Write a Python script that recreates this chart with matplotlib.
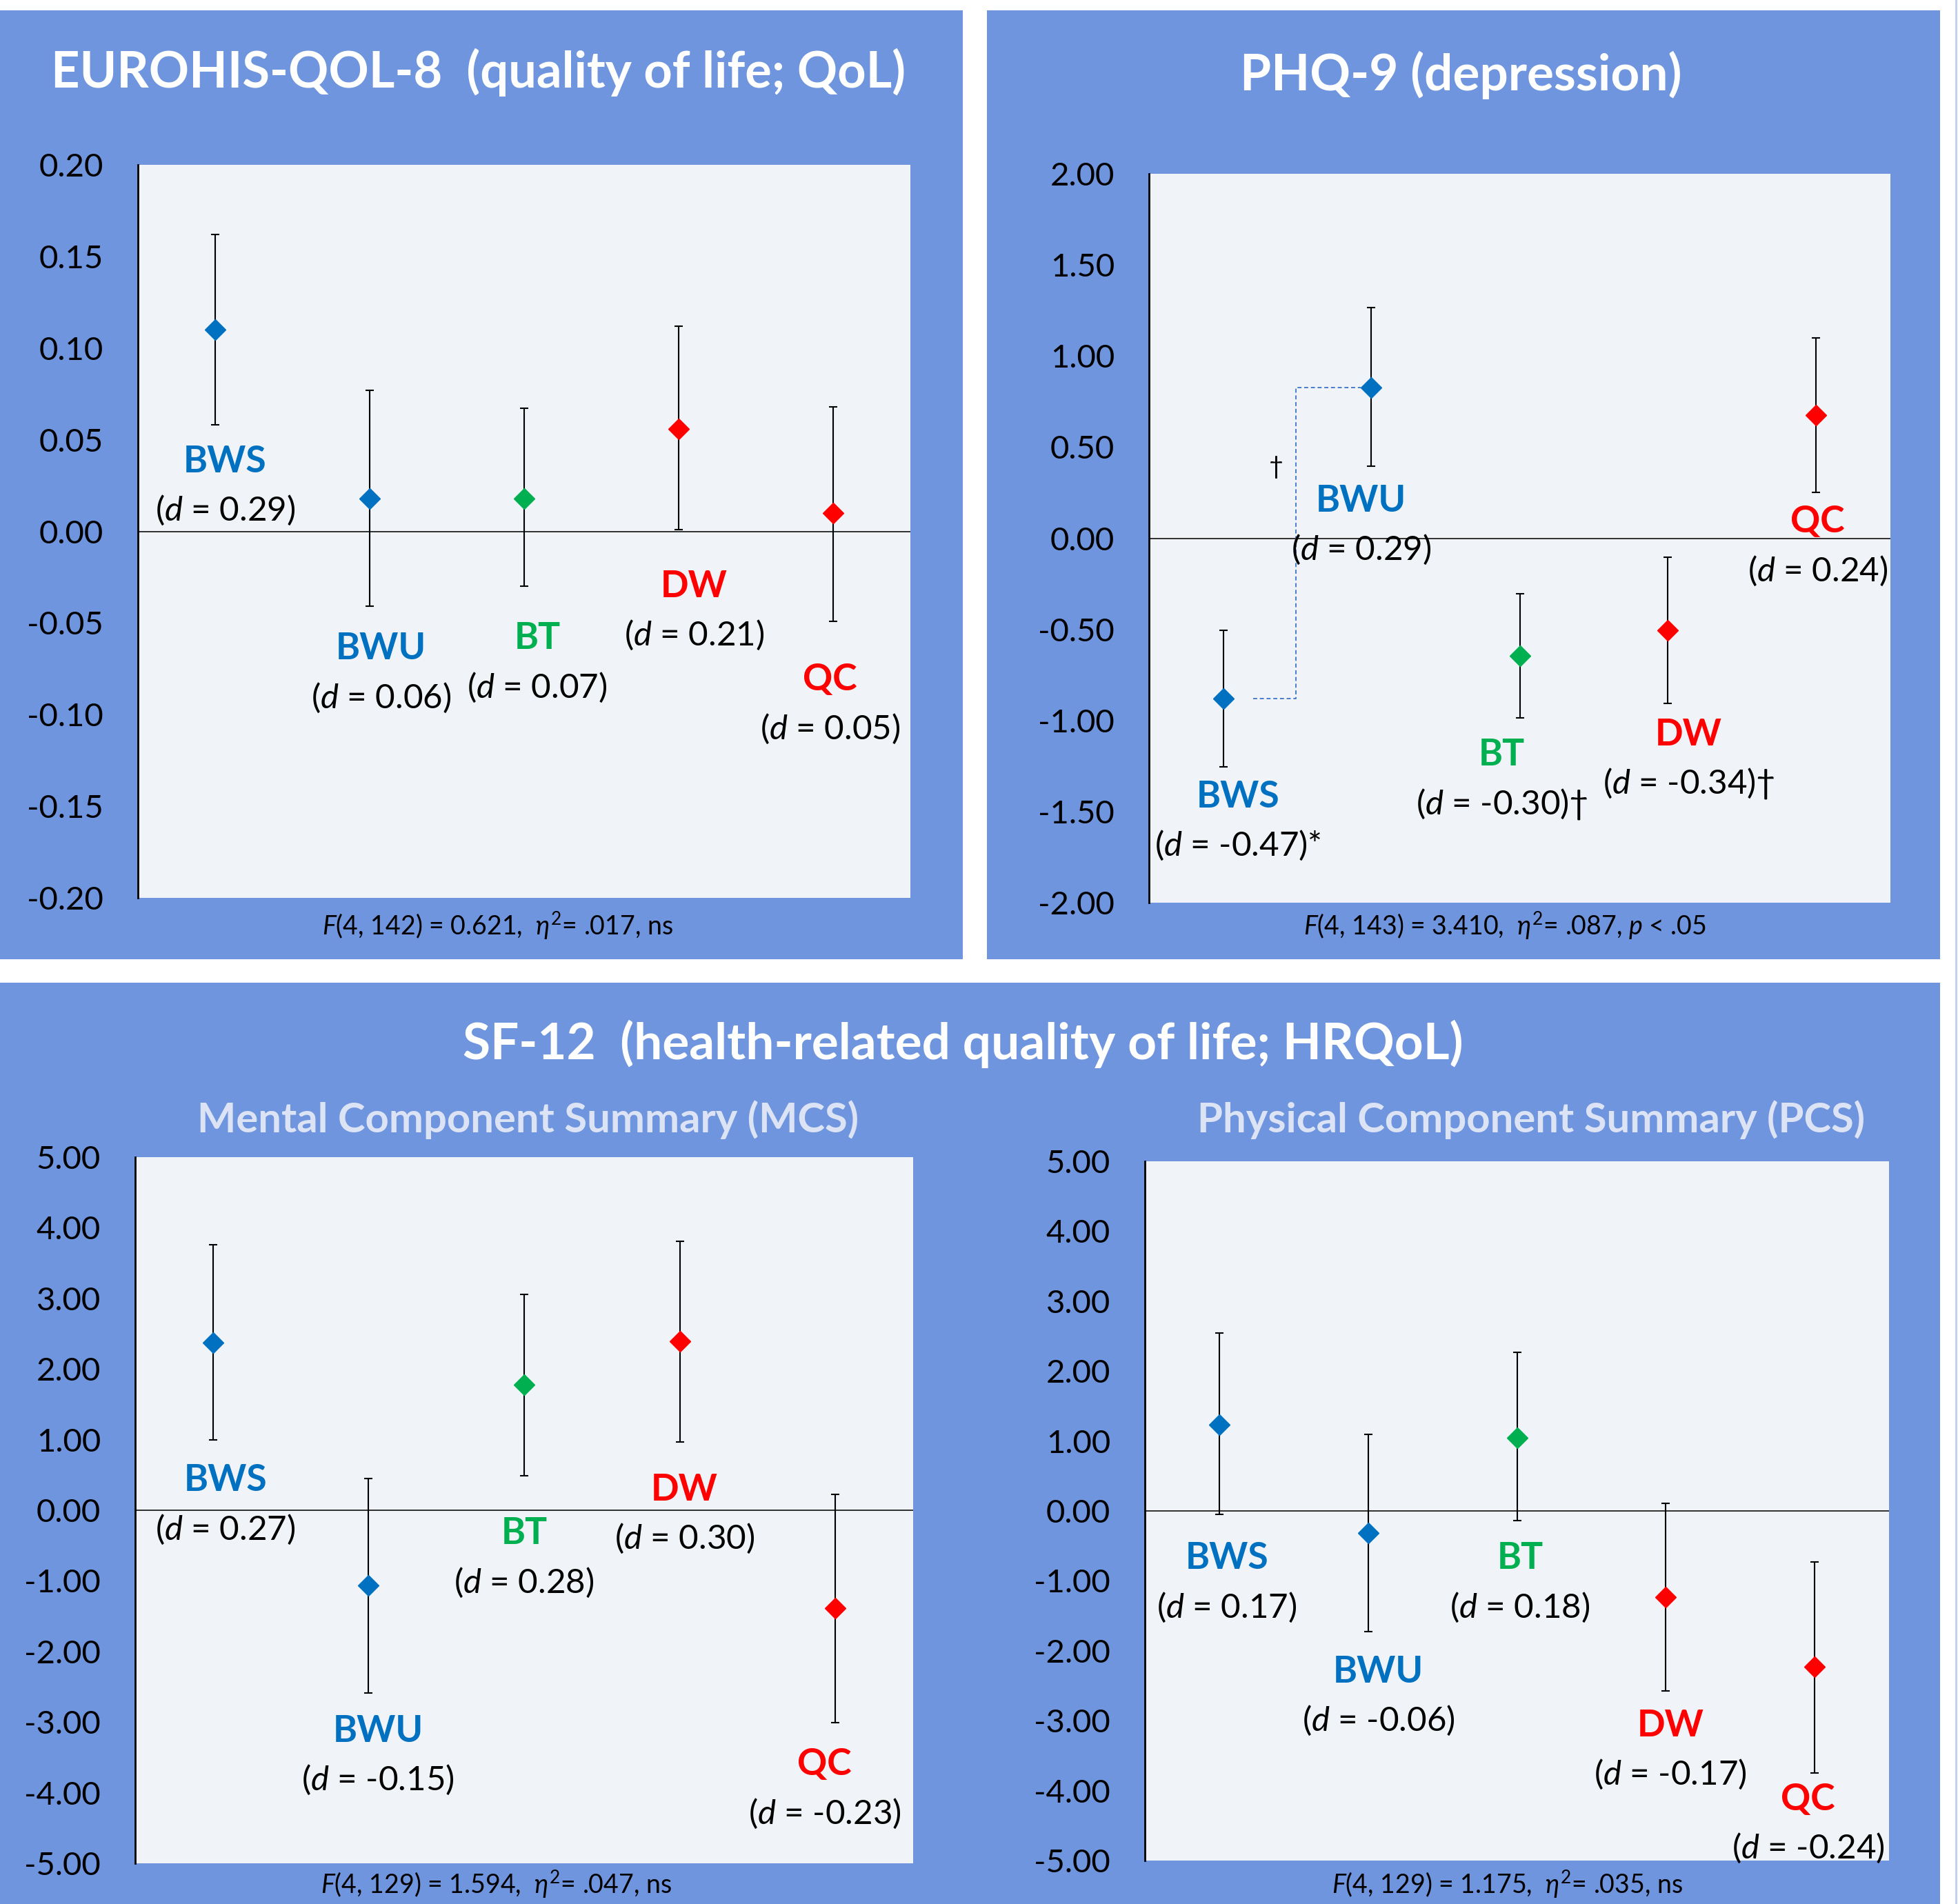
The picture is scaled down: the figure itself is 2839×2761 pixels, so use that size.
import numpy as np
import matplotlib
matplotlib.use('Agg')
import matplotlib.pyplot as plt
from matplotlib.patches import Rectangle
from matplotlib.ticker import FormatStrFormatter

plt.rcParams['font.family'] = ['Lato', 'DejaVu Sans']
plt.rcParams['mathtext.fontset'] = 'custom'
plt.rcParams['mathtext.rm'] = 'Lato'
plt.rcParams['mathtext.it'] = 'Lato:italic'
plt.rcParams['mathtext.bf'] = 'Lato:bold'
plt.rcParams['axes.unicode_minus'] = False

# Gruppen und Farben
groups = ['BWS', 'BWU', 'BT', 'DW', 'QC']
group_colors = ['#0070C0', '#0070C0', '#00B050', '#FF0000', '#FF0000']

# EUROHIS-QOL-8
qol_mean = [0.110, 0.018, 0.018, 0.056, 0.010]
qol_low = [0.058, -0.041, -0.030, 0.001, -0.049]
qol_high = [0.162, 0.077, 0.067, 0.112, 0.068]
qol_d = ['0.29', '0.06', '0.07', '0.21', '0.05']
qol_mark = ['', '', '', '', '']

# PHQ-9
phq_mean = [-0.880, 0.828, -0.647, -0.505, 0.676]
phq_low = [-1.255, 0.396, -0.985, -0.907, 0.250]
phq_high = [-0.506, 1.266, -0.305, -0.105, 1.100]
phq_d = ['-0.47', '0.29', '-0.30', '-0.34', '0.24']
phq_mark = ['*', '', '\u2020', '\u2020', '']

# SF-12 MCS
mcs_mean = [2.37, -1.06, 1.78, 2.39, -1.39]
mcs_low = [1.00, -2.59, 0.49, 0.97, -3.01]
mcs_high = [3.76, 0.45, 3.06, 3.81, 0.22]
mcs_d = ['0.27', '-0.15', '0.28', '0.30', '-0.23']

# SF-12 PCS
pcs_mean = [1.23, -0.32, 1.05, -1.23, -2.23]
pcs_low = [-0.05, -1.73, -0.14, -2.57, -3.75]
pcs_high = [2.54, 1.09, 2.27, 0.11, -0.73]
pcs_d = ['0.17', '-0.06', '0.18', '-0.17', '-0.24']
no_mark = ['', '', '', '', '']

# Beschriftungspositionen (Datenkoordinaten, Mitte des Gruppennamens)
qol_lab_x = [1.065, 2.075, 3.085, 4.10, 4.98]
qol_lab_y = [0.038, -0.064, -0.0585, -0.030, -0.081]
phq_lab_x = [1.10, 1.93, 2.88, 4.14, 5.01]
phq_lab_y = [-1.418, 0.205, -1.19, -1.077, 0.089]
mcs_lab_x = [1.08, 2.06, 3.0, 4.03, 4.93]
mcs_lab_y = [0.42, -3.13, -0.33, 0.29, -3.60]
pcs_lab_x = [1.05, 2.07, 3.02, 4.03, 4.955]
pcs_lab_y = [-0.68, -2.30, -0.68, -3.07, -4.125]

PANEL_BLUE = '#6F95DE'
PLOT_BG = '#F0F4F8'
W, H = 2839, 2761

fig = plt.figure(figsize=(W / 100, H / 100), dpi=100)
fig.patch.set_facecolor('white')


def px_rect(x0, y0, x1, y1):
    # Pixel (oben links) -> Figure-Koordinaten
    return [x0 / W, 1 - y1 / H, (x1 - x0) / W, (y1 - y0) / H]


for r in [px_rect(0, 15, 1396, 1391), px_rect(1431, 15, 2813, 1391), px_rect(0, 1425, 2813, 2761)]:
    fig.add_artist(Rectangle((r[0], r[1]), r[2], r[3], transform=fig.transFigure,
                             facecolor=PANEL_BLUE, edgecolor='none', zorder=0))
fig.add_artist(Rectangle((2835 / W, 0), 3 / W, 1, transform=fig.transFigure,
                         facecolor='#C3D2F0', edgecolor='none', zorder=0))


def fig_text(x, y, s, **kw):
    fig.text(x / W, 1 - y / H, s, ha='center', va='center', **kw)


def draw_panel(rect, means, lows, highs, d_vals, marks, lab_x, lab_y, ylim, step):
    ax = fig.add_axes(rect)
    ax.set_facecolor(PLOT_BG)
    xs = np.arange(1, len(groups) + 1)
    ax.axhline(0, color='#303030', lw=1.4, zorder=1)
    for x, m, lo, hi, c in zip(xs, means, lows, highs, group_colors):
        ax.errorbar(x, m, yerr=[[m - lo], [hi - m]], fmt='none', ecolor='black',
                    elinewidth=1.5, capsize=4.5, capthick=1.5, zorder=2)
        ax.plot(x, m, 'D', color=c, ms=15.5, mec=c, zorder=3)
    for name, d, mk, c, lx, ly in zip(groups, d_vals, marks, group_colors, lab_x, lab_y):
        ax.text(lx, ly, name, color=c, fontsize=38.5, fontweight='bold', ha='center', va='center')
        ax.annotate('($d$ = %s)%s' % (d, mk), (lx, ly), xytext=(0, -51), textcoords='offset points',
                    ha='center', va='center', fontsize=35.5, color='black', annotation_clip=False)
    ax.set_xlim(0.5, 5.5)
    ax.set_ylim(*ylim)
    ax.set_xticks([])
    n = int(round((ylim[1] - ylim[0]) / step))
    ax.set_yticks(np.round(np.linspace(ylim[0], ylim[1], n + 1), 4) + 0.0)
    ax.yaxis.set_major_formatter(FormatStrFormatter('%.2f'))
    for s in ['top', 'right', 'bottom']:
        ax.spines[s].set_visible(False)
    ax.spines['left'].set_linewidth(2)
    ax.spines['left'].set_color('black')
    ax.tick_params(axis='y', length=0, labelsize=34, pad=36)
    return ax


draw_panel(px_rect(200, 239, 1320, 1302), qol_mean, qol_low, qol_high, qol_d, qol_mark,
           qol_lab_x, qol_lab_y, (-0.20, 0.20), 0.05)
ax_phq = draw_panel(px_rect(1666, 252, 2741, 1309), phq_mean, phq_low, phq_high, phq_d, phq_mark,
                    phq_lab_x, phq_lab_y, (-2.0, 2.0), 0.5)
draw_panel(px_rect(196, 1678, 1324, 2702), mcs_mean, mcs_low, mcs_high, mcs_d, no_mark,
           mcs_lab_x, mcs_lab_y, (-5.0, 5.0), 1.0)
draw_panel(px_rect(1660, 1684, 2739, 2698), pcs_mean, pcs_low, pcs_high, pcs_d, no_mark,
           pcs_lab_x, pcs_lab_y, (-5.0, 5.0), 1.0)

# Verbindungslinie BWS -> BWU (PHQ-9) mit Trendmarkierung
ax_phq.plot([1.20, 1.49, 1.49, 1.93], [phq_mean[0], phq_mean[0], phq_mean[1], phq_mean[1]],
            color='#4A7CC9', lw=1.4, ls=(0, (3, 2)), zorder=1.5)
ax_phq.text(1.356, 0.388, '\u2020', fontsize=26, ha='center', va='center', color='black')

# Titel
fig_text(693, 105, 'EUROHIS-QOL-8  (quality of life; QoL)', color='white', fontsize=52, fontweight='bold')
fig_text(2118, 109, 'PHQ-9 (depression)', color='white', fontsize=52.5, fontweight='bold')
fig_text(1396, 1514, 'SF-12  (health-related quality of life; HRQoL)', color='white', fontsize=52.5,
         fontweight='bold')
fig_text(766, 1624, 'Mental Component Summary (MCS)', color='#DCE3F5', fontsize=43, fontweight='bold')
fig_text(2220, 1624, 'Physical Component Summary (PCS)', color='#DCE3F5', fontsize=43, fontweight='bold')

# Statistik unter den Diagrammen
fig_text(721, 1342, r'$F$(4, 142) = 0.621,  $\eta^2$= .017, ns', fontsize=27)
fig_text(2182, 1342, r'$F$(4, 143) = 3.410,  $\eta^2$= .087, $p$ < .05', fontsize=27)
fig_text(719, 2732, r'$F$(4, 129) = 1.594,  $\eta^2$= .047, ns', fontsize=27)
fig_text(2185, 2732, r'$F$(4, 129) = 1.175,  $\eta^2$= .035, ns', fontsize=27)

fig.savefig('out.png', dpi=100, facecolor='white')
